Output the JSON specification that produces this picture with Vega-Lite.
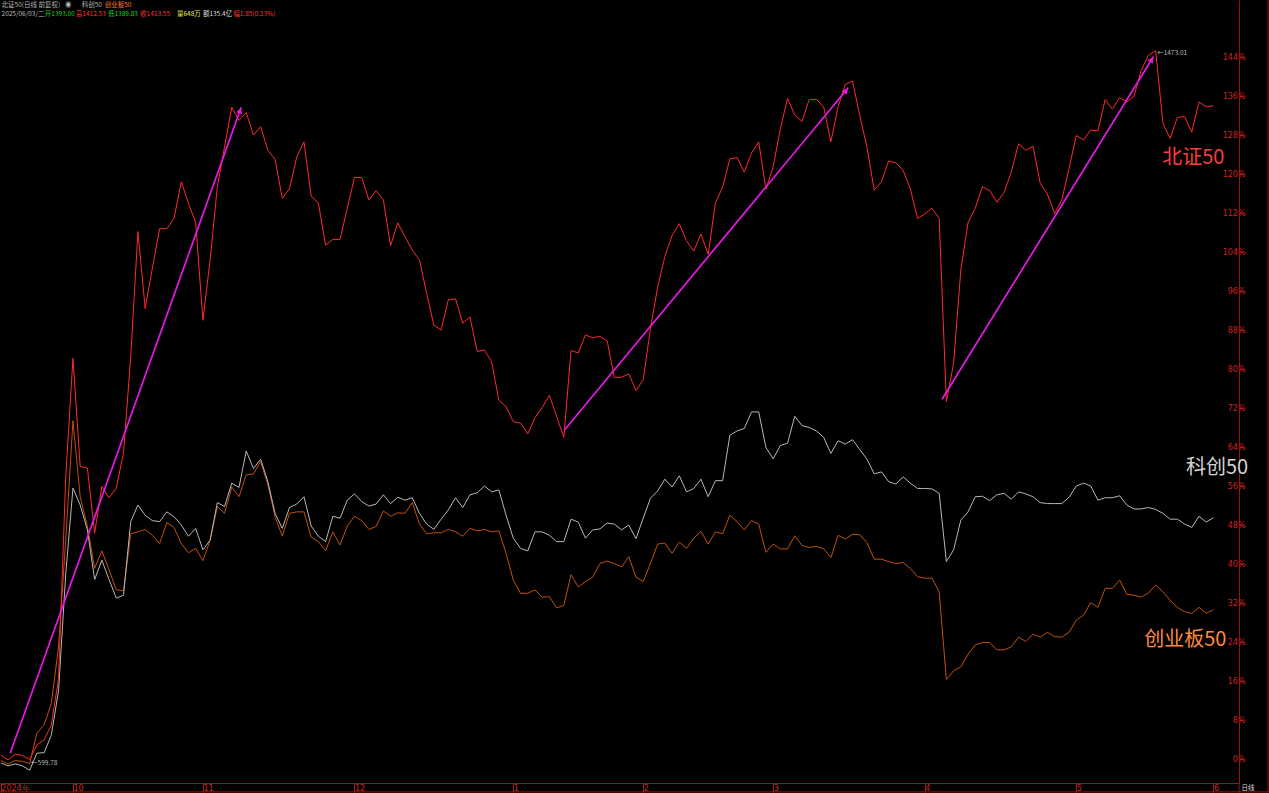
{
"$schema": "https://vega.github.io/schema/vega-lite/v6.json",
"width": 1239, "height": 783,
"autosize": {"type": "none"},
"padding": {"left": 0, "top": 0, "right": 30, "bottom": 10},
"background": "#000000",
"config": {"view": {"stroke": null}, "text": {"font": "Noto Sans CJK SC"}},
"datasets": {
"series": [
{"i":0,"bz":0.8,"kc":-0.8,"cy":-0.3},{"i":1,"bz":-0.2,"kc":-1.4,"cy":-1.0},{"i":2,"bz":1.0,"kc":-1.0,"cy":-0.3},{"i":3,"bz":0.7,"kc":-1.4,"cy":-0.5},{"i":4,"bz":-0.1,"kc":-2.3,"cy":-0.9},
{"i":5,"bz":2.9,"kc":1.2,"cy":5.3},{"i":6,"bz":3.9,"kc":1.3,"cy":7.0},{"i":7,"bz":7.0,"kc":4.9,"cy":11.4},{"i":8,"bz":16.5,"kc":14,"cy":23},{"i":9,"bz":58,"kc":38,"cy":45},
{"i":10,"bz":82.2,"kc":55.6,"cy":69.4},{"i":11,"bz":60,"kc":52.1,"cy":53.8},{"i":12,"bz":59.7,"kc":47,"cy":47.7},{"i":13,"bz":46.3,"kc":36.8,"cy":39.1},{"i":14,"bz":55.9,"kc":40.8,"cy":42.7},
{"i":15,"bz":53.6,"kc":36.8,"cy":38.8},{"i":16,"bz":55.6,"kc":33,"cy":34.7},{"i":17,"bz":62.8,"kc":33.6,"cy":34.5},{"i":18,"bz":82.5,"kc":48.7,"cy":46.2},{"i":19,"bz":108.2,"kc":52.1,"cy":46.6},
{"i":20,"bz":92.4,"kc":50,"cy":47.1},{"i":21,"bz":100.7,"kc":48.9,"cy":45.9},{"i":22,"bz":108.8,"kc":48.7,"cy":44.2},{"i":23,"bz":108.8,"kc":50.7,"cy":48.5},{"i":24,"bz":110.9,"kc":49.7,"cy":47.5},
{"i":25,"bz":118.4,"kc":48,"cy":44.2},{"i":26,"bz":114,"kc":45.7,"cy":42.3},{"i":27,"bz":110,"kc":47.3,"cy":43.2},{"i":28,"bz":90,"kc":42.9,"cy":40.7},{"i":29,"bz":102.4,"kc":44.9,"cy":44.9},
{"i":30,"bz":117.4,"kc":52.6,"cy":51.8},{"i":31,"bz":125.6,"kc":51.8,"cy":50.4},{"i":32,"bz":133.7,"kc":56.6,"cy":55.8},{"i":33,"bz":131,"kc":55.7,"cy":53.8},{"i":34,"bz":132.6,"kc":63.2,"cy":58.3},
{"i":35,"bz":128,"kc":59.6,"cy":58.5},{"i":36,"bz":129.7,"kc":61.5,"cy":61.0},{"i":37,"bz":124.9,"kc":56.9,"cy":56.2},{"i":38,"bz":123,"kc":50.4,"cy":49.7},{"i":39,"bz":115,"kc":47.3,"cy":45.7},
{"i":40,"bz":117,"kc":51.6,"cy":50.4},{"i":41,"bz":123.5,"kc":52.3,"cy":50.7},{"i":42,"bz":126.6,"kc":53.8,"cy":50.7},{"i":43,"bz":115.5,"kc":47.8,"cy":45.5},{"i":44,"bz":114,"kc":45.7,"cy":44.6},
{"i":45,"bz":105.4,"kc":44.6,"cy":42.7},{"i":46,"bz":106.6,"kc":49.8,"cy":46.6},{"i":47,"bz":106.6,"kc":49.4,"cy":43.9},{"i":48,"bz":113,"kc":53.1,"cy":47.8},{"i":49,"bz":119.3,"kc":54.4,"cy":49.8},
{"i":50,"bz":119.3,"kc":52.8,"cy":48.9},{"i":51,"bz":114.7,"kc":51.9,"cy":47.1},{"i":52,"bz":116.6,"kc":52.3,"cy":47.7},{"i":53,"bz":114.7,"kc":54.2,"cy":50.9},{"i":54,"bz":105.3,"kc":52.4,"cy":49.8},
{"i":55,"bz":110,"kc":53.7,"cy":50.5},{"i":56,"bz":107.1,"kc":53.1,"cy":50.4},{"i":57,"bz":104.4,"kc":53.6,"cy":52.6},{"i":58,"bz":102.4,"kc":50.4,"cy":48.2},{"i":59,"bz":95.5,"kc":48.2,"cy":46.2},
{"i":60,"bz":89,"kc":47.1,"cy":46.4},{"i":61,"bz":88,"kc":49.2,"cy":46.4},{"i":62,"bz":94.2,"kc":51.1,"cy":47.1},{"i":63,"bz":94.4,"kc":53.6,"cy":46.6},{"i":64,"bz":89.4,"kc":51.6,"cy":45.7},
{"i":65,"bz":90.7,"kc":54.2,"cy":47.3},{"i":66,"bz":83.6,"kc":54.6,"cy":46.8},{"i":67,"bz":83.9,"kc":56,"cy":47.1},{"i":68,"bz":81.5,"kc":54.8,"cy":46.6},{"i":69,"bz":73.6,"kc":55.2,"cy":46.8},
{"i":70,"bz":72.3,"kc":50,"cy":42.2},{"i":71,"bz":69.2,"kc":45.3,"cy":36.7},{"i":72,"bz":68.9,"kc":43.2,"cy":34},{"i":73,"bz":66.7,"kc":42.7,"cy":34},{"i":74,"bz":70,"kc":46.6,"cy":34.7},
{"i":75,"bz":72.1,"kc":46.6,"cy":33.2},{"i":76,"bz":74.6,"kc":45.9,"cy":33.3},{"i":77,"bz":70.3,"kc":44.6,"cy":31},{"i":78,"bz":66.0,"kc":44.6,"cy":31.5},{"i":79,"bz":83.8,"kc":49.2,"cy":37.8},
{"i":80,"bz":83.3,"kc":48.6,"cy":35.3},{"i":81,"bz":87.0,"kc":45.3,"cy":36.4},{"i":82,"bz":86.4,"kc":47,"cy":37.3},{"i":83,"bz":86.7,"kc":47.2,"cy":40.1},{"i":84,"bz":85.8,"kc":48.4,"cy":40.6},
{"i":85,"bz":78.3,"kc":48.2,"cy":40.1},{"i":86,"bz":78.3,"kc":47,"cy":39.4},{"i":87,"bz":79.0,"kc":48,"cy":41.5},{"i":88,"bz":75.6,"kc":45.2,"cy":37.3},{"i":89,"bz":77.8,"kc":49.4,"cy":36.4},
{"i":90,"bz":88.3,"kc":53.5,"cy":40.1},{"i":91,"bz":96.8,"kc":55,"cy":44.1},{"i":92,"bz":103.1,"kc":57.4,"cy":44.3},{"i":93,"bz":107.4,"kc":55.8,"cy":42.2},{"i":94,"bz":109.8,"kc":58.1,"cy":44.5},
{"i":95,"bz":106.3,"kc":54.8,"cy":43.2},{"i":96,"bz":104.2,"kc":55.5,"cy":45.3},{"i":97,"bz":107.7,"kc":57.4,"cy":46.7},{"i":98,"bz":103.5,"kc":53.8,"cy":44.1},{"i":99,"bz":114.1,"kc":57.1,"cy":46.6},
{"i":100,"bz":117.3,"kc":57.1,"cy":46.2},{"i":101,"bz":123.1,"kc":66.4,"cy":50},{"i":102,"bz":123.4,"kc":67.3,"cy":48.7},{"i":103,"bz":120.4,"kc":67.8,"cy":47},{"i":104,"bz":124.3,"kc":71.2,"cy":48.9},
{"i":105,"bz":126.6,"kc":71.2,"cy":48.2},{"i":106,"bz":116.9,"kc":63.9,"cy":42.4},{"i":107,"bz":121.5,"kc":61.6,"cy":44.1},{"i":108,"bz":129.3,"kc":64.3,"cy":43.1},{"i":109,"bz":135.5,"kc":64.8,"cy":43.1},
{"i":110,"bz":132.1,"kc":70.3,"cy":45.8},{"i":111,"bz":130.8,"kc":68.4,"cy":43.8},{"i":112,"bz":135.3,"kc":68,"cy":43.4},{"i":113,"bz":135.3,"kc":67.3,"cy":43.6},{"i":114,"bz":133.8,"kc":66,"cy":43.1},
{"i":115,"bz":126.6,"kc":62.7,"cy":41.3},{"i":116,"bz":133.8,"kc":65.3,"cy":45.9},{"i":117,"bz":138.4,"kc":64.6,"cy":45.1},{"i":118,"bz":139.1,"kc":65.5,"cy":46.1},{"i":119,"bz":132,"kc":63.5,"cy":46},
{"i":120,"bz":125.5,"kc":61.5,"cy":44.4},{"i":121,"bz":116.7,"kc":58.5,"cy":41},{"i":122,"bz":118.4,"kc":58.9,"cy":41},{"i":123,"bz":122.7,"kc":56.9,"cy":40.5},{"i":124,"bz":122.3,"kc":56.4,"cy":40.1},
{"i":125,"bz":120.8,"kc":57.9,"cy":40.3},{"i":126,"bz":117,"kc":56.6,"cy":39.1},{"i":127,"bz":110.9,"kc":55.5,"cy":37.4},{"i":128,"bz":111.8,"kc":55.5,"cy":37.1},{"i":129,"bz":113,"kc":55.4,"cy":37.1},
{"i":130,"bz":110.9,"kc":54.5,"cy":34.3},{"i":131,"bz":73.3,"kc":40.5,"cy":16.3},{"i":132,"bz":81.2,"kc":42.9,"cy":18.1},{"i":133,"bz":100.3,"kc":49,"cy":18.9},{"i":134,"bz":110,"kc":50.7,"cy":21.5},
{"i":135,"bz":113,"kc":53.8,"cy":23.4},{"i":136,"bz":117.4,"kc":53.9,"cy":23.9},{"i":137,"bz":116.6,"kc":53,"cy":23.9},{"i":138,"bz":114.2,"kc":54.2,"cy":22.4},{"i":139,"bz":116.2,"kc":54.5,"cy":22.4},
{"i":140,"bz":120.5,"kc":53.3,"cy":23},{"i":141,"bz":126.2,"kc":54.8,"cy":25},{"i":142,"bz":124.9,"kc":54.4,"cy":24.1},{"i":143,"bz":125.7,"kc":53.8,"cy":25.6},{"i":144,"bz":118.1,"kc":52.6,"cy":25},
{"i":145,"bz":115.9,"kc":52.4,"cy":26},{"i":146,"bz":111.9,"kc":52.4,"cy":25.1},{"i":147,"bz":114.7,"kc":52.4,"cy":25},{"i":148,"bz":121.2,"kc":53.7,"cy":26},{"i":149,"bz":127.9,"kc":56,"cy":28.5},
{"i":150,"bz":127,"kc":56.6,"cy":29.5},{"i":151,"bz":129,"kc":56,"cy":32.1},{"i":152,"bz":128.9,"kc":53.1,"cy":31.1},{"i":153,"bz":135.3,"kc":53.6,"cy":35},{"i":154,"bz":133.3,"kc":53.6,"cy":35},
{"i":155,"bz":135.7,"kc":54,"cy":36.7},{"i":156,"bz":134.8,"kc":52.1,"cy":33.8},{"i":157,"bz":136,"kc":51.3,"cy":33.6},{"i":158,"bz":141.3,"kc":51.3,"cy":33.2},{"i":159,"bz":144.4,"kc":51.6,"cy":34.1},
{"i":160,"bz":145.3,"kc":51.2,"cy":35.7},{"i":161,"bz":130.4,"kc":50.4,"cy":34.3},{"i":162,"bz":127.3,"kc":49.2,"cy":32.6},{"i":163,"bz":131.6,"kc":49.2,"cy":31.1},{"i":164,"bz":131.8,"kc":48.2,"cy":30.2},
{"i":165,"bz":128.6,"kc":47.5,"cy":29.9},{"i":166,"bz":134.8,"kc":49.8,"cy":31.1},{"i":167,"bz":133.8,"kc":48.6,"cy":29.9},{"i":168,"bz":134,"kc":49.5,"cy":30.6}
],
"arrows": [
{"a":1,"i":1.3,"p":1.2},{"a":1,"i":33.3,"p":133.7},
{"a":2,"i":78.1,"p":67.5},{"a":2,"i":117.4,"p":137.7},
{"a":3,"i":130.4,"p":73.8},{"a":3,"i":159.7,"p":144.1}
],
"heads": [
{"a":1,"i":33.15,"p":133.0},{"a":2,"i":117.1,"p":137.1},{"a":3,"i":159.45,"p":143.5}
],
"texts": [
{"k":"name","t":"北证50","i":165.2,"p":123.3,"c":"bz"},
{"k":"name","t":"科创50","i":168.5,"p":59.7,"c":"kc"},
{"k":"name","t":"创业板50","i":164.1,"p":24.4,"c":"cyl"},
{"k":"note","t":"←599.78","i":4.2,"p":-0.8,"c":"grey"},
{"k":"note","t":"←1473.01","i":160.2,"p":144.9,"c":"grey"},
{"k":"note","t":"日线","i":171.9,"p":-5.95,"c":"white"},
{"k":"note","t":"北证50(日线 前复权)","i":0.1,"p":154.7,"c":"grey"},
{"k":"note","t":"◉","i":8.9,"p":154.7,"c":"grey"},
{"k":"note","t":"科创50","i":11.2,"p":154.7,"c":"grey"},
{"k":"note","t":"创业板50","i":14.4,"p":154.7,"c":"orange"},
{"k":"note","t":"2025/06/03/二","i":0.1,"p":152.8,"c":"grey"},
{"k":"note","t":"开1393.00","i":6.1,"p":152.8,"c":"green"},
{"k":"note","t":"高1412.53","i":10.4,"p":152.8,"c":"red"},
{"k":"note","t":"低1389.83","i":14.85,"p":152.8,"c":"green"},
{"k":"note","t":"收1413.55","i":19.3,"p":152.8,"c":"red"},
{"k":"note","t":"量648万","i":24.4,"p":152.8,"c":"yellow"},
{"k":"note","t":"额135.4亿","i":28.0,"p":152.8,"c":"white"},
{"k":"note","t":"幅1.85(0.13%)","i":32.2,"p":152.8,"c":"red"}
]
},
"layer": [
{
"data": {"name": "series"},
"transform": [{"fold": ["bz","kc","cy"], "as": ["s","p"]}, {"filter": "datum.s === 'cy'"}],
"mark": {"type": "line", "color": "#c0500c", "strokeWidth": 1},
"encoding": {
"x": {"field": "i", "type": "quantitative",
"scale": {"domain": [-0.111, 171.54], "nice": false, "zero": false},
"axis": {"title": null, "values": [0,10,28,49,71,89,107,128,149,168],
"labelExpr": "datum.value==0?'2024年':datum.value==10?'10':datum.value==28?'11':datum.value==49?'12':datum.value==71?'1':datum.value==89?'2':datum.value==107?'3':datum.value==128?'4':datum.value==149?'5':'6'",
"domainColor": "#a01010", "tickColor": "#b01818", "tickSize": 9, "labelColor": "#d42020",
"labelFont": "DejaVu Sans", "labelFontSize": 8, "labelAlign": "left", "labelDx": 1.5,
"labelBaseline": "middle", "labelPadding": -4, "grid": false, "labelOverlap": false, "labelFlush": false}},
"y": {"field": "p", "type": "quantitative",
"scale": {"domain": [-4.92, 155.7], "nice": false, "zero": false},
"axis": {"title": null, "orient": "right", "values": [0,8,16,24,32,40,48,56,64,72,80,88,96,104,112,120,128,136,144],
"labelExpr": "datum.value + '%'", "domainColor": "#a01010", "tickColor": "#b01818", "tickSize": 4,
"labelColor": "#d42020", "labelFont": "DejaVu Sans", "labelFontSize": 8, "labelAlign": "right",
"labelDx": 20, "labelPadding": 2, "labelBaseline": "middle", "grid": false, "labelOverlap": false, "labelFlush": false}}
}
},
{
"data": {"name": "series"},
"transform": [{"fold": ["bz","kc","cy"], "as": ["s","p"]}, {"filter": "datum.s === 'kc'"}],
"mark": {"type": "line", "color": "#b8b8b8", "strokeWidth": 1},
"encoding": {"x": {"field": "i", "type": "quantitative"}, "y": {"field": "p", "type": "quantitative"}}
},
{
"data": {"name": "series"},
"transform": [{"fold": ["bz","kc","cy"], "as": ["s","p"]}, {"filter": "datum.s === 'bz'"}],
"mark": {"type": "line", "color": "#ff2a2a", "strokeWidth": 1},
"encoding": {"x": {"field": "i", "type": "quantitative"}, "y": {"field": "p", "type": "quantitative"}}
},
{
"data": {"name": "arrows"},
"mark": {"type": "line", "color": "#e619e6", "strokeWidth": 1.7},
"encoding": {"x": {"field": "i", "type": "quantitative"}, "y": {"field": "p", "type": "quantitative"}, "detail": {"field": "a", "type": "nominal"}}
},
{
"data": {"name": "heads"},
"transform": [{"filter": "datum.a === 1"}],
"mark": {"type": "point", "shape": "triangle-up", "filled": true, "color": "#e619e6", "opacity": 1, "size": 40, "angle": 19.7},
"encoding": {"x": {"field": "i", "type": "quantitative"}, "y": {"field": "p", "type": "quantitative"}}
},
{
"data": {"name": "heads"},
"transform": [{"filter": "datum.a === 2"}],
"mark": {"type": "point", "shape": "triangle-up", "filled": true, "color": "#e619e6", "opacity": 1, "size": 40, "angle": 39.9},
"encoding": {"x": {"field": "i", "type": "quantitative"}, "y": {"field": "p", "type": "quantitative"}}
},
{
"data": {"name": "heads"},
"transform": [{"filter": "datum.a === 3"}],
"mark": {"type": "point", "shape": "triangle-up", "filled": true, "color": "#e619e6", "opacity": 1, "size": 40, "angle": 31.7},
"encoding": {"x": {"field": "i", "type": "quantitative"}, "y": {"field": "p", "type": "quantitative"}}
},
{
"data": {"values": [{}]},
"mark": {"type": "rule", "color": "#a01010", "strokeWidth": 1},
"encoding": {"x": {"datum": -0.111, "type": "quantitative"}, "x2": {"datum": 175.6}, "y": {"datum": -6.75, "type": "quantitative"}}
},
{
"data": {"values": [{}]},
"mark": {"type": "rule", "color": "#a01010", "strokeWidth": 1},
"encoding": {"x": {"datum": 175.55, "type": "quantitative"}, "y": {"datum": 155.7, "type": "quantitative"}, "y2": {"datum": -6.9}}
},
{
"data": {"values": [{}]},
"mark": {"type": "rule", "color": "#a01010", "strokeWidth": 1},
"encoding": {"x": {"datum": 171.54, "type": "quantitative"}, "y": {"datum": -4.92, "type": "quantitative"}, "y2": {"datum": -6.9}}
},
{
"data": {"name": "texts"},
"transform": [{"filter": "datum.k === 'name'"}],
"mark": {"type": "text", "fontSize": 20, "align": "center", "baseline": "middle", "font": "Noto Sans CJK SC"},
"encoding": {
"x": {"field": "i", "type": "quantitative"}, "y": {"field": "p", "type": "quantitative"},
"text": {"field": "t"},
"color": {"field": "c", "type": "nominal", "legend": null,
"scale": {"domain": ["bz","kc","cyl","grey","green","red","yellow","white","orange"],
"range": ["#ff3c3c","#d4d4d4","#ff8a3d","#b8b8b8","#18d018","#ff3030","#e8e850","#dcdcdc","#ff7a2a"]}}
}
},
{
"data": {"name": "texts"},
"transform": [{"filter": "datum.k === 'note'"}],
"mark": {"type": "text", "fontSize": 6.5, "align": "left", "baseline": "middle", "font": "Noto Sans CJK SC"},
"encoding": {
"x": {"field": "i", "type": "quantitative"}, "y": {"field": "p", "type": "quantitative"},
"text": {"field": "t"},
"color": {"field": "c", "type": "nominal", "legend": null}
}
}
]
}
